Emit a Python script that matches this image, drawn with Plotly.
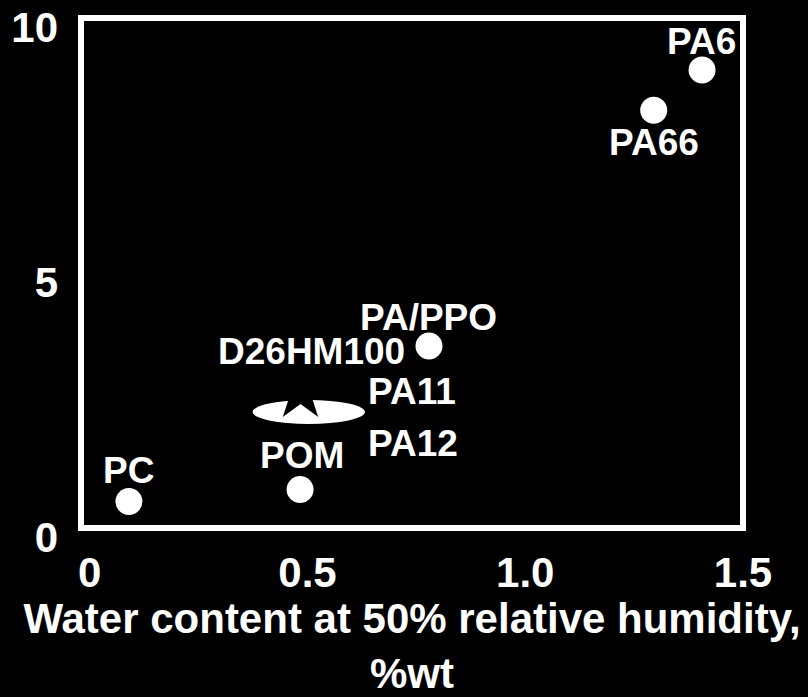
import plotly.graph_objects as go

# Materials shown as individual points
materials = ["PC", "POM", "PA/PPO", "PA66", "PA6"]
water_content = [0.09, 0.483, 0.779, 1.295, 1.406]   # %wt at 50% RH
property_value = [0.52, 0.755, 3.57, 8.19, 8.98]

# Region covered by PA11 / PA12 (drawn as an ellipse)
pa_region_x = [0.374, 0.632]
pa_region_y = [2.04, 2.51]

# Black star marker sitting on the PA11/PA12 region
star_x = [0.484]
star_y = [2.655]

# Axis ticks
x_ticks = [0, 0.5, 1.0, 1.5]
x_ticktext = ["0", "0.5", "1.0", "1.5"]
y_ticks = [0, 5, 10]
y_ticktext = ["0", "5", "10"]

FONT = "Liberation Sans, Arial, sans-serif"
WHITE = "#ffffff"

fig = go.Figure()

fig.add_trace(go.Scatter(
    x=water_content, y=property_value, mode="markers",
    marker=dict(symbol="circle", size=27, color=WHITE, line=dict(width=0)),
    hoverinfo="text", text=materials, showlegend=False,
))

fig.add_trace(go.Scatter(
    x=star_x, y=star_y, mode="markers",
    marker=dict(symbol="star", size=43, color="#000000", line=dict(width=0)),
    hoverinfo="skip", showlegend=False,
))

# PA11 / PA12 ellipse
fig.add_shape(
    type="circle", xref="x", yref="y",
    x0=pa_region_x[0], x1=pa_region_x[1], y0=pa_region_y[0], y1=pa_region_y[1],
    fillcolor=WHITE, line=dict(width=0), layer="below",
)

# Plot frame
fig.add_shape(
    type="rect", xref="paper", yref="paper", x0=0, x1=1, y0=0, y1=1,
    line=dict(color=WHITE, width=6), layer="above",
)

label_font = dict(family=FONT, size=37, color=WHITE, weight="bold")

# Point labels: (text, x, y, xanchor, xshift, yshift)
point_labels = [
    ("PC", water_content[0], property_value[0], "center", 0, 31),
    ("POM", water_content[1], property_value[1], "center", 2, 34),
    ("PA/PPO", water_content[2], property_value[2], "center", 0, 28),
    ("D26HM100", water_content[2], property_value[2], "right", -22, -6),
    ("PA66", water_content[3], property_value[3], "center", 0, -32),
    ("PA6", water_content[4], property_value[4], "center", -1, 29),
]
ell_cy = sum(pa_region_y) / 2
point_labels += [
    ("PA11", pa_region_x[1], ell_cy, "left", 1, 20),
    ("PA12", pa_region_x[1], ell_cy, "left", 1, -32),
]

for text, x, y, xanchor, xs, ys in point_labels:
    fig.add_annotation(
        x=x, y=y, xref="x", yref="y", text=text, showarrow=False,
        xanchor=xanchor, yanchor="middle", xshift=xs, yshift=ys,
        font=label_font,
    )

tick_font = dict(family=FONT, size=42, color=WHITE, weight="bold")

fig.update_xaxes(
    range=[-0.02, 1.5], tickvals=x_ticks, ticktext=x_ticktext,
    tickfont=tick_font, showgrid=False, zeroline=False, showline=False,
    ticks="", ticklabelstandoff=16, automargin=False,
    ticklabeloverflow="allow",
    title=dict(text="Water content at 50% relative humidity,<br>%wt",
               font=dict(family=FONT, size=42, color=WHITE, weight="bold"),
               standoff=13),
)
fig.update_yaxes(
    range=[0, 10], tickvals=y_ticks, ticktext=y_ticktext,
    tickfont=tick_font, showgrid=False, zeroline=False, showline=False,
    ticks="", ticklabelstandoff=22, ticklabelshift=9, automargin=False,
    ticklabeloverflow="allow",
)

fig.update_layout(
    width=808, height=697,
    margin=dict(l=81, r=65, t=18, b=169),
    paper_bgcolor="#000000", plot_bgcolor="#000000",
    showlegend=False,
)

fig.write_html("out.html")
